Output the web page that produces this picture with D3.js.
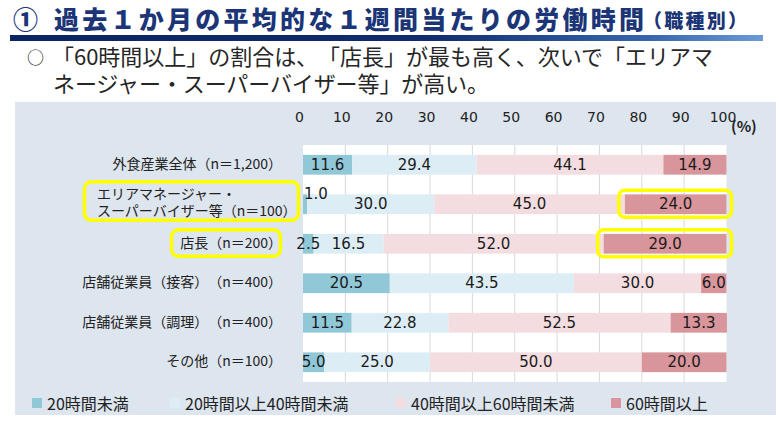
<!DOCTYPE html>
<html>
<head>
  <meta charset="UTF-8">
  <title>過去1か月の平均的な1週間当たりの労働時間（職種別）</title>
  <script src="https://d3js.org/d3.v7.min.js"></script>
  <style>
    body { margin: 0; background: #fff; }
    svg { display: block; }
    svg text { text-spacing-trim: space-all; }
  </style>
</head>
<body>
  <div id="chart"></div>

  <script>
    // chart values
    const categories = [
      "外食産業全体（n＝1,200）",
      "エリアマネージャー・\nスーパーバイザー等（n＝100）",
      "店長（n＝200）",
      "店舗従業員（接客）（n＝400）",
      "店舗従業員（調理）（n＝400）",
      "その他（n＝100）"
    ];
    const seriesNames = ["20時間未満", "20時間以上40時間未満", "40時間以上60時間未満", "60時間以上"];
    const under20 = [11.6, 1.0, 2.5, 20.5, 11.5, 5.0];
    const from20to40 = [29.4, 30.0, 16.5, 43.5, 22.8, 25.0];
    const from40to60 = [44.1, 45.0, 52.0, 30.0, 52.5, 50.0];
    const over60 = [14.9, 24.0, 29.0, 6.0, 13.3, 20.0];
    const xTicks = [0, 10, 20, 30, 40, 50, 60, 70, 80, 90, 100];
    const highlightRows = [1, 2];   // rows boxed in yellow on the slide

    const colors = ["#90c8d7", "#ddedf5", "#f3dde0", "#d8959b"];
    const jp = "'Noto Sans CJK JP', 'Noto Sans', sans-serif";
    const num = "'DejaVu Sans', Verdana, sans-serif";

    const table = categories.map((c, i) => ({
      cat: c,
      [seriesNames[0]]: under20[i],
      [seriesNames[1]]: from20to40[i],
      [seriesNames[2]]: from40to60[i],
      [seriesNames[3]]: over60[i]
    }));

    const W = 779, H = 422;
    const svg = d3.select("#chart").append("svg")
      .attr("width", W)
      .attr("height", H);

    // ---- header ----
    const grad = svg.append("defs").append("linearGradient")
      .attr("id", "rule")
      .attr("x1", "0%").attr("x2", "100%");
    grad.append("stop").attr("offset", "0%").attr("stop-color", "#0b2461");
    grad.append("stop").attr("offset", "55%").attr("stop-color", "#0f2c6c");
    grad.append("stop").attr("offset", "85%").attr("stop-color", "#3766ad");
    grad.append("stop").attr("offset", "100%").attr("stop-color", "#6b9ad6");

    svg.append("text")
      .attr("x", 13).attr("y", 29)
      .style("font-family", jp).style("font-weight", "900")
      .style("font-size", "25px").attr("fill", "#1b3577")
      .text("①");
    svg.append("text")
      .attr("x", 54).attr("y", 29)
      .attr("textLength", 590).attr("lengthAdjust", "spacing")
      .style("font-family", jp).style("font-weight", "900")
      .style("font-size", "25px").attr("fill", "#1b3577")
      .text("過去１か月の平均的な１週間当たりの労働時間");
    svg.append("text")
      .attr("x", 643).attr("y", 28)
      .attr("textLength", 104).attr("lengthAdjust", "spacing")
      .style("font-family", jp).style("font-weight", "900")
      .style("font-size", "19px").attr("fill", "#1b3577")
      .text("（職種別）");

    svg.append("rect")
      .attr("x", 10).attr("y", 35)
      .attr("width", 753).attr("height", 6)
      .attr("fill", "url(#rule)");

    svg.append("text")
      .attr("x", 27).attr("y", 64)
      .style("font-family", jp).style("font-size", "17px").attr("fill", "#262626")
      .text("○");
    svg.append("text")
      .attr("x", 52).attr("y", 65)
      .attr("textLength", 661).attr("lengthAdjust", "spacing")
      .style("font-family", jp).style("font-size", "22px").attr("fill", "#262626")
      .text("「60時間以上」の割合は、「店長」が最も高く、次いで「エリアマ");
    svg.append("text")
      .attr("x", 53).attr("y", 92)
      .attr("textLength", 436).attr("lengthAdjust", "spacing")
      .style("font-family", jp).style("font-size", "22px").attr("fill", "#262626")
      .text("ネージャー・スーパーバイザー等」が高い。");

    // ---- chart panel ----
    svg.append("rect")
      .attr("x", 15).attr("y", 102)
      .attr("width", 761).attr("height", 313)
      .attr("fill", "#dde5ee");

    const x = d3.scaleLinear().domain([0, 100]).range([303, 726.5]);
    const y = d3.scaleBand()
      .domain(categories)
      .range([145, 382])
      .paddingInner(0.5)
      .paddingOuter(0.25);

    svg.append("rect")
      .attr("x", x(0)).attr("y", 145)
      .attr("width", x(100) - x(0)).attr("height", 237)
      .attr("fill", "#fff");

    svg.append("g")
      .selectAll("line")
      .data(xTicks.slice(1, -1))
      .join("line")
      .attr("x1", d => x(d)).attr("x2", d => x(d))
      .attr("y1", 145).attr("y2", 382)
      .attr("stroke", "#d9d9d9")
      .attr("stroke-width", 1);

    const axis = svg.append("g")
      .attr("transform", "translate(0,122)")
      .call(d3.axisTop(x).tickValues(xTicks).tickSize(0).tickPadding(0));
    axis.select(".domain").remove();
    axis.selectAll("text")
      .attr("dx", -4)
      .style("font-family", num)
      .style("font-size", "14px")
      .attr("fill", "#222");

    svg.append("text")
      .attr("x", 731).attr("y", 132)
      .style("font-family", jp).style("font-size", "15px").style("font-weight", "bold")
      .attr("fill", "#222")
      .text("(%)");

    // ---- stacked bars ----
    const stacked = d3.stack().keys(seriesNames)(table);

    svg.append("g")
      .selectAll("g")
      .data(stacked)
      .join("g")
      .attr("fill", (d, i) => colors[i])
      .selectAll("rect")
      .data(d => d)
      .join("rect")
      .attr("x", d => x(d[0]))
      .attr("y", d => y(d.data.cat))
      .attr("width", d => x(d[1]) - x(d[0]))
      .attr("height", y.bandwidth());

    // value labels drawn after every bar so none is hidden
    svg.append("g")
      .selectAll("g")
      .data(stacked)
      .join("g")
      .selectAll("text")
      .data(d => d)
      .join("text")
      .attr("x", d => (d[1] - d[0]) < 2 ? x(d[0]) + 1 : x((d[0] + d[1]) / 2))
      .attr("y", d => y(d.data.cat) + y.bandwidth() / 2 + ((d[1] - d[0]) < 2 ? -10 : 0))
      .attr("text-anchor", d => (d[1] - d[0]) < 2 ? "start" : "middle")
      .attr("dominant-baseline", "central")
      .style("font-family", num)
      .style("font-size", "15px")
      .attr("fill", "#1a1a1a")
      .text(d => (d[1] - d[0]).toFixed(1));

    // ---- category labels ----
    const labels = svg.append("g")
      .selectAll("text")
      .data(categories)
      .join("text")
      .style("font-family", jp)
      .style("font-size", "14px")
      .attr("fill", "#222")
      .attr("dominant-baseline", "central");

    labels.each(function(c) {
      const lines = c.split("\n");
      const cy = y(c) + y.bandwidth() / 2 - 2;
      const t = d3.select(this);
      if (lines.length === 1) {
        t.attr("x", 282).attr("y", cy).attr("text-anchor", "end").text(c);
      } else {
        t.attr("text-anchor", "start");
        lines.forEach((ln, k) => {
          t.append("tspan")
            .attr("x", 97)
            .attr("y", cy - 9 + k * 17)
            .text(ln);
        });
      }
    });

    // ---- yellow highlight boxes ----
    const hl = svg.append("g")
      .attr("fill", "none")
      .attr("stroke", "#ffff00")
      .attr("stroke-width", 3.5);

    // label boxes
    const labelBox = [
      { x0: 84.5, x1: 298.5, top: -22.5, h: 38.5 },
      { x0: 171.5, x1: 280.5, top: -14, h: 26.5 }
    ];
    highlightRows.forEach((r, k) => {
      const cy = y(categories[r]) + y.bandwidth() / 2;
      hl.append("rect")
        .attr("x", labelBox[k].x0).attr("y", cy + labelBox[k].top)
        .attr("width", labelBox[k].x1 - labelBox[k].x0).attr("height", labelBox[k].h)
        .attr("rx", 7);
    });

    // "60時間以上" segment boxes
    const lastLayer = stacked[3];
    highlightRows.forEach(r => {
      const d = lastLayer[r];
      const cy = y(d.data.cat) + y.bandwidth() / 2;
      hl.append("rect")
        .attr("x", x(d[0]) - 6)
        .attr("y", cy - 14)
        .attr("width", x(d[1]) - x(d[0]) + 11)
        .attr("height", 27)
        .attr("rx", 6);
    });

    // ---- legend ----
    const legendX = [32, 170, 396, 611];
    const legend = svg.append("g")
      .selectAll("g")
      .data(seriesNames)
      .join("g")
      .attr("transform", (d, i) => "translate(" + legendX[i] + ",398)");
    legend.append("rect")
      .attr("width", 10).attr("height", 10)
      .attr("fill", (d, i) => colors[i]);
    legend.append("text")
      .attr("x", 15).attr("y", 5)
      .attr("dominant-baseline", "central")
      .style("font-family", jp)
      .style("font-size", "16px")
      .attr("fill", "#222")
      .text(d => d);
  </script>
</body>
</html>
